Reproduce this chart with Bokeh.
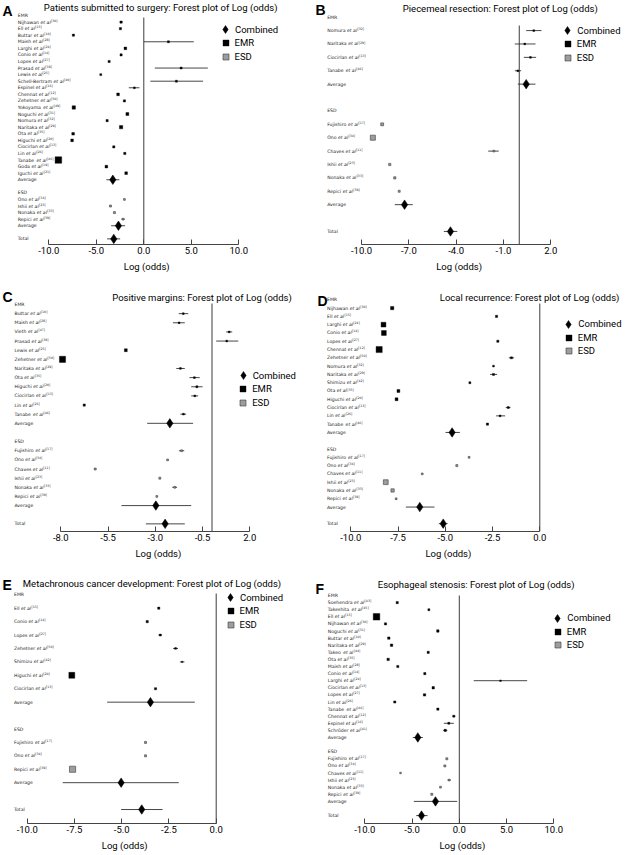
import math
from bokeh.plotting import figure
from bokeh.models import (Range1d, FixedTicker, NumeralTickFormatter, Label, Title,
                          Legend, LegendItem, ColumnDataSource)
from bokeh.layouts import gridplot
from bokeh.embed import file_html
from bokeh.resources import INLINE
from bokeh.core.properties import value

# ---------------------------------------------------------------- data
REFS = {"Buttar": 10, "Chaves": 11, "Chennat": 12, "Ciocirlan": 13, "Conio": 14,
        "Ell": 15, "Espinel": 16, "Fujishiro": 17, "Goda": 19, "Higuchi": 20,
        "Iguchi": 21, "Ishii": 23, "Larghi": 24, "Lewis": 25, "Lin": 26,
        "Lopes": 27, "Maish": 28, "Naritaka": 29, "Nijhawan": 30, "Noguchi": 31,
        "Nomura": 32, "Nonaka": 33, "Ono": 34, "Ota": 35, "Prasad": 38,
        "Repici": 39, "Schell-Bertram": 40, "Schröder": 41, "Shimizu": 42,
        "Soehendra": 43, "Takeo": 44, "Takeshita": 45, "Tanabe": 46, "Vieth": 47,
        "Yokoyama": 49, "Zehetner": 50}

TITLES = {
    "A": "Patients submitted to surgery: Forest plot of Log (odds)",
    "B": "Piecemeal resection: Forest plot of Log (odds)",
    "C": "Positive margins: Forest plot of Log (odds)",
    "D": "Local recurrence: Forest plot of Log (odds)",
    "E": "Metachronous cancer development: Forest plot of Log (odds)",
    "F": "Esophageal stenosis: Forest plot of Log (odds)",
}
TICKS = {
    "A": [-10.0, -5.0, 0.0, 5.0, 10.0],
    "B": [-10.0, -7.0, -4.0, -1.0, 2.0],
    "C": [-8.0, -5.5, -3.0, -0.5, 2.0],
    "D": [-10.0, -7.5, -5.0, -2.5, 0.0],
    "E": [-10.0, -7.5, -5.0, -2.5, 0.0],
    "F": [-10.0, -5.0, 0.0, 5.0, 10.0],
}
LEGEND_LABELS = ["Combined", "EMR", "ESD"]
AXIS_TITLE = "Log (odds)"

# (study, log odds, CI low, CI high, relative weight)  or (study, log odds, weight)
A_EMR = [("Nijhawan", -2.39, -2.55, -2.23, 1.0), ("Ell", -2.46, 1.0), ("Buttar", -7.41, 1.0),
         ("Maish", 2.59, 0.00, 5.26, 0.9), ("Larghi", -1.94, 1.2), ("Conio", -2.39, 1.0),
         ("Lopes", -3.65, 1.0), ("Prasad", 3.93, 1.16, 6.74, 0.9), ("Lewis", -4.53, 0.9),
         ("Schell-Bertram", 3.43, 0.69, 6.24, 0.9), ("Espinel", -0.99, -1.58, -0.46, 0.8),
         ("Chennat", -2.71, 1.2), ("Zehetner", -2.04, 1.0), ("Yokoyama", -7.37, 1.5),
         ("Noguchi", -1.73, 1.3), ("Nomura", -3.86, 1.0), ("Naritaka", -2.39, 1.5),
         ("Ota", -7.44, 1.2), ("Higuchi", -7.55, 1.2), ("Ciocirlan", -3.16, 1.0),
         ("Lin", -2.00, 1.0), ("Tanabe", -8.99, 3.0), ("Goda", -3.94, 1.2), ("Iguchi", -1.86, 1.2)]
A_ESD = [("Ono", -2.04, 0.8), ("Ishii", -3.51, 0.9), ("Nonaka", -3.09, 0.9),
         ("Repici", -2.18, -2.35, -2.00, 0.8)]
A_POOLED = [(-3.26, -3.94, -2.57), (-2.67, -3.44, -1.97), (-3.16, -3.86, -2.49)]

B_EMR = [("Nomura", 0.92, 0.44, 1.41, 0.8), ("Naritaka", 0.35, -0.28, 1.03, 0.8),
         ("Ciocirlan", 0.71, 0.29, 1.07, 0.8), ("Tanabe", -0.09, -0.28, 0.12, 0.8)]
B_ESD = [("Fujishiro", -8.69, 1.3), ("Ono", -9.28, 2.3), ("Chaves", -1.61, -1.97, -1.30, 0.8),
         ("Ishii", -8.21, 1.0), ("Nonaka", -7.89, 1.0), ("Repici", -7.61, 0.9)]
B_POOLED = [(0.44, -0.09, 1.03), (-7.27, -7.89, -6.75), (-4.36, -4.78, -3.93)]

C_EMR = [("Buttar", -1.52, -1.76, -1.26, 0.8), ("Maish", -1.74, -2.07, -1.44, 0.8),
         ("Vieth", 0.91, 0.75, 1.07, 0.8), ("Prasad", 0.78, 0.22, 1.39, 0.8),
         ("Lewis", -4.56, 1.3), ("Zehetner", -7.91, 2.8), ("Naritaka", -1.67, -1.89, -1.44, 0.8),
         ("Ota", -0.93, -1.19, -0.65, 0.8), ("Higuchi", -0.80, -1.10, -0.50, 0.9),
         ("Ciocirlan", -0.91, -1.10, -0.73, 0.8), ("Lin", -6.76, 1.0),
         ("Tanabe", -1.51, -1.67, -1.37, 0.8)]
C_ESD = [("Fujishiro", -1.61, -1.75, -1.47, 0.8), ("Ono", -2.35, 0.8), ("Chaves", -6.18, 0.9),
         ("Ishii", -2.76, 0.9), ("Nonaka", -1.97, -2.10, -1.85, 0.8), ("Repici", -2.92, 0.8)]
C_POOLED = [(-2.23, -3.43, -1.00), (-2.97, -4.79, -1.10), (-2.48, -3.50, -1.44)]

D_EMR = [("Nijhawan", -7.81, 1.5), ("Ell", -2.29, 1.0), ("Larghi", -8.27, 2.2),
         ("Conio", -8.25, 2.2), ("Lopes", -2.22, 1.0), ("Chennat", -8.50, 2.8),
         ("Zehetner", -1.50, -1.64, -1.36, 0.9), ("Nomura", -2.45, 0.8),
         ("Naritaka", -2.45, -2.63, -2.26, 0.9), ("Shimizu", -3.70, 0.9), ("Ota", -7.48, 1.3),
         ("Higuchi", -7.58, 1.3), ("Ciocirlan", -1.67, -1.80, -1.55, 0.9),
         ("Lin", -2.10, -2.31, -1.83, 0.8), ("Tanabe", -2.77, 1.0)]
D_ESD = [("Fujishiro", -3.74, 0.8), ("Ono", -4.39, 0.9), ("Chaves", -6.22, 0.8),
         ("Ishii", -8.15, 2.2), ("Nonaka", -7.79, 1.5), ("Repici", -7.60, 0.8)]
D_POOLED = [(-4.64, -4.99, -4.23), (-6.35, -7.09, -5.57), (-5.11, -5.34, -4.88)]

E_EMR = [("Ell", -3.04, 1.0), ("Conio", -3.65, 1.0), ("Lopes", -2.96, -3.05, -2.87, 0.9),
         ("Zehetner", -2.15, -2.28, -2.02, 0.8), ("Shimizu", -1.80, -1.92, -1.68, 0.6),
         ("Higuchi", -7.64, 2.7), ("Ciocirlan", -3.21, 1.0)]
E_ESD = [("Fujishiro", -3.74, 0.9), ("Ono", -3.74, 0.9), ("Repici", -7.60, 2.8)]
E_POOLED = [(-3.48, -5.77, -1.13), (-5.03, -8.12, -1.98), (-3.94, -5.03, -2.84)]

F_EMR = [("Soehendra", -6.57, 1.0), ("Takeshita", -3.22, 0.9), ("Ell", -8.76, 3.0),
         ("Nijhawan", -7.81, 1.0), ("Noguchi", -2.27, 1.1), ("Buttar", -7.46, 1.1),
         ("Naritaka", -7.17, 1.1), ("Takeo", -3.29, 1.0), ("Ota", -7.53, 1.1),
         ("Maish", -6.51, 1.0), ("Conio", -3.65, 1.0), ("Larghi", 4.36, 1.53, 7.18, 0.7),
         ("Ciocirlan", -2.76, 1.1), ("Lopes", -3.68, 1.1), ("Lin", -6.83, 1.0),
         ("Tanabe", -2.27, 1.0), ("Chennat", -0.58, -0.75, -0.42, 0.9),
         ("Espinel", -1.11, -1.64, -0.58, 0.9), ("Schröder", -1.49, -1.70, -1.27, 1.0)]
F_ESD = [("Fujishiro", -1.32, 0.9), ("Ono", -1.53, 0.9), ("Chaves", -6.22, 0.7),
         ("Ishii", -1.07, -1.25, -0.90, 0.8), ("Nonaka", -1.99, 0.8), ("Repici", -2.91, 0.9)]
F_POOLED = [(-4.39, -4.92, -3.86), (-2.52, -4.81, -0.22), (-4.00, -4.56, -3.36)]

# ---------------------------------------------------------------- layout (page pixels)
COLS = [(0, 314), (314, 314)]                                   # (left, width)
ROWS = [(0, 244, 288), (288, 531, 288), (576, 823, 278)]          # (top, axis y, height)
LAY = {
    "A": dict(col=0, row=0, t=(48.3, 238.3), y0=15.0, dy=6.57, lab=17.3, xlab=123.3,
              title=(43.3, 6.7), letter=(2, 10), leg=(225.0, 29.3), vtop=17),
    "B": dict(col=1, row=0, t=(361.0, 550.3), y0=16.7, dy=13.39, lab=326.7, xlab=435.7,
              title=(402.3, 8.3), letter=(315, 9.5), leg=(567.3, 30.0), vtop=25),
    "C": dict(col=0, row=1, t=(60.3, 249.3), y0=304.0, dy=9.14, lab=14.0, xlab=135.0,
              title=(111.7, 296.7), letter=(2, 296), leg=(242.7, 375.0), vtop=303),
    "D": dict(col=1, row=1, t=(350.3, 539.3), y0=299.3, dy=8.29, lab=326.5, xlab=425.0,
              title=(439.3, 296.7), letter=(317, 300), leg=(568.3, 323.7), vtop=303),
    "E": dict(col=0, row=2, t=(26.7, 215.7), y0=594.3, dy=13.42, lab=13.5, xlab=101.3,
              title=(22.3, 583.3), letter=(2, 584), leg=(230.0, 597.3), vtop=593),
    "F": dict(col=1, row=2, t=(364.3, 553.3), y0=595.0, dy=7.1, lab=327.3, xlab=439.0,
              title=(377.3, 584), letter=(315, 588), leg=(557.3, 617.7), vtop=595),
}
LEG_TEXT_DX = 10.0   # legend text start relative to glyph centre
LEG_PITCH = 13.6

FONT = "Roboto"
LFONT = "DejaVu Sans"
LS = 4.6      # study label font size (px)
SS = 3.2      # superscript size (px)
SQ = 2.2      # px per unit weight
TXT = "#222222"

_W = {" ": 651, "-": 739, ".": 651, "[": 799, "]": 799, "ö": 1253}
_W.update(dict(zip("ABCDEFGHIJKLMNOPQRSTUVWXYZ",
                   [1401, 1405, 1430, 1577, 1294, 1178, 1587, 1540, 604, 604, 1343, 1141, 1767,
                    1532, 1612, 1235, 1612, 1423, 1300, 1251, 1499, 1401, 2025, 1403, 1251, 1403])))
_W.update(dict(zip("abcdefghijklmnopqrstuvwxyz",
                   [1255, 1300, 1126, 1300, 1260, 721, 1300, 1298, 569, 569, 1186, 569, 1995,
                    1298, 1253, 1300, 1300, 842, 1067, 803, 1298, 1212, 1675, 1212, 1212, 1075])))
_W.update({d: 1303 for d in "0123456789"})


def tw(s, px):
    return sum(_W.get(c, 1250) for c in s) / 2048.0 * px


def norm(rows):
    out = []
    for t in rows:
        if len(t) == 3:
            out.append((t[0], t[1], t[1], t[1], t[2]))
        else:
            out.append(tuple(t))
    return out


def build(key, emr, esd, pooled):
    ticks = TICKS[key]
    L = LAY[key]
    left, width = COLS[L["col"]]
    top, ax_y, height = ROWS[L["row"]]
    t0, t1 = L["t"]
    ppu = (t1 - t0) / (ticks[-1] - ticks[0])
    xv = lambda px: ticks[0] + (px - t0) / ppu
    y0, dy = L["y0"], L["dy"]
    rv = lambda py: (py - y0) / dy
    frame_h = ax_y - top

    p = figure(width=width, height=height,
               x_range=Range1d(xv(left), xv(left + width)),
               y_range=Range1d(rv(ax_y), rv(top)),
               output_backend="svg", toolbar_location=None,
               y_axis_location=None, title=None,
               min_border_left=0, min_border_right=0, min_border_top=0,
               min_border_bottom=height - frame_h)
    p.outline_line_color = None
    p.grid.visible = False
    p.background_fill_color = "white"
    p.border_fill_color = "white"

    emr = norm(emr)
    esd = norm(esd)
    n, m = len(emr), len(esd)
    r_emr = list(range(1, n + 1))
    r_avg1 = n + 1
    r_esdh = n + 3
    r_esd = list(range(n + 4, n + 4 + m))
    r_avg2 = n + m + 4
    r_tot = n + m + 6

    # reference line at zero
    p.segment(x0=[0], y0=[rv(L["vtop"])], x1=[0], y1=[rv(ax_y)],
              line_color="#3c3c3c", line_width=1)

    # confidence intervals
    cx0, cx1, cy = [], [], []
    for rows_, rr in ((emr, r_emr), (esd, r_esd)):
        for (nm, est, lo, hi, w), r in zip(rows_, rr):
            if hi > lo:
                cx0.append(lo); cx1.append(hi); cy.append(r)
    for (est, lo, hi), r in zip(pooled, (r_avg1, r_avg2, r_tot)):
        cx0.append(lo); cx1.append(hi); cy.append(r)
    p.segment(x0=cx0, y0=cy, x1=cx1, y1=cy, line_color="#333333", line_width=0.9)

    src_emr = ColumnDataSource(dict(x=[t[1] for t in emr], y=r_emr,
                                    s=[SQ * t[4] for t in emr]))
    ren_emr = p.scatter("x", "y", size="s", source=src_emr, marker="square",
                        fill_color="black", line_color="black", line_width=0.4)
    src_esd = ColumnDataSource(dict(x=[t[1] for t in esd], y=r_esd,
                                    s=[SQ * t[4] for t in esd]))
    ren_esd = p.scatter("x", "y", size="s", source=src_esd, marker="square",
                        fill_color="#9d9d9d", line_color="#3a3a3a", line_width=0.6)
    src_pool = ColumnDataSource(dict(x=[q[0] for q in pooled], y=[r_avg1, r_avg2, r_tot]))
    ren_pool = p.scatter("x", "y", source=src_pool, marker="diamond", size=9.5,
                         fill_color="black", line_color="black", line_width=0.5)

    # study labels: name + italic "et al" + superscript reference
    lx = xv(L["lab"])
    names = [t[0] for t in emr] + [t[0] for t in esd]
    rows_n = r_emr + r_esd
    eo = [tw(nm + " ", LS) for nm in names]
    so = [o + tw("et al", LS) + 0.3 for o in eo]
    common = dict(text_font=value(LFONT), text_baseline="middle", text_color=TXT)
    p.text("x", "y", "text", source=ColumnDataSource(dict(x=[lx] * len(names), y=rows_n, text=names)),
           text_font_size=f"{LS}px", **common)
    p.text("x", "y", "text", x_offset="xo",
           source=ColumnDataSource(dict(x=[lx] * len(names), y=rows_n, text=["et al"] * len(names), xo=eo)),
           text_font_size=f"{LS}px", text_font_style="italic", **common)
    p.text("x", "y", "text", x_offset="xo", y_offset=-1.6,
           source=ColumnDataSource(dict(x=[lx] * len(names), y=rows_n,
                                        text=[f"[{REFS[nm]}]" for nm in names], xo=so)),
           text_font_size=f"{SS}px", **common)
    hdr = ColumnDataSource(dict(x=[lx] * 5, y=[0, r_avg1, r_esdh, r_avg2, r_tot],
                                text=["EMR", "Average", "ESD", "Average", "Total"]))
    p.text("x", "y", "text", source=hdr, text_font_size=f"{LS}px", **common)

    # x axis
    ax = p.xaxis[0]
    ax.bounds = (ticks[0], ticks[-1])
    ax.ticker = FixedTicker(ticks=ticks)
    ax.formatter = NumeralTickFormatter(format="0.0")
    ax.major_tick_in = 5
    ax.major_tick_out = 0
    ax.minor_tick_line_color = None
    ax.axis_line_color = "#444444"
    ax.major_tick_line_color = "#444444"
    ax.major_label_text_font = FONT
    ax.major_label_text_font_size = "9.5px"
    ax.major_label_text_color = "black"
    ax.major_label_standoff = 2
    p.add_layout(Title(text=AXIS_TITLE, align="left", offset=L["xlab"] - left, standoff=6,
                       vertical_align="middle", text_font=FONT, text_font_size="9.5px",
                       text_font_style="normal", text_color="black"), "below")

    # panel title and letter (inside the frame)
    tx, ty = L["title"]
    p.add_layout(Label(x=tx - left, y=ax_y - ty, x_units="screen", y_units="screen",
                       text=TITLES[key], text_align="left", text_baseline="middle",
                       text_font=FONT, text_font_size="9.5px", text_color="black"))
    lx_, ly_ = L["letter"]
    p.add_layout(Label(x=lx_ - left, y=ax_y - ly_, x_units="screen", y_units="screen",
                       text=key, text_align="left", text_baseline="middle",
                       text_font="Liberation Sans", text_font_style="bold",
                       text_font_size="14px", text_color="black"))

    # legend: one single-item legend per entry so each can sit at its own place
    gx, gy = L["leg"]
    for i, (lab, ren, gs) in enumerate(zip(LEGEND_LABELS, (ren_pool, ren_emr, ren_esd), (20, 15, 15))):
        cyy = gy + i * LEG_PITCH
        standoff = max(0, int(round(LEG_TEXT_DX - gs / 2)))
        lg = Legend(items=[LegendItem(label=lab, renderers=[ren])],
                    location=(gx - gs / 2 - left, ax_y - (cyy + gs / 2)),
                    glyph_width=gs, glyph_height=gs, label_height=gs, spacing=0,
                    label_standoff=standoff, padding=0, margin=0, border_line_color=None,
                    background_fill_alpha=0, label_text_font=FONT,
                    label_text_font_size="9.5px", label_text_color="black")
        p.add_layout(lg)
    return p


pA = build("A", A_EMR, A_ESD, A_POOLED)
pB = build("B", B_EMR, B_ESD, B_POOLED)
pC = build("C", C_EMR, C_ESD, C_POOLED)
pD = build("D", D_EMR, D_ESD, D_POOLED)
pE = build("E", E_EMR, E_ESD, E_POOLED)
pF = build("F", F_EMR, F_ESD, F_POOLED)

grid = gridplot([[pA, pB], [pC, pD], [pE, pF]], toolbar_location=None)
open("out.html", "w", encoding="utf-8").write(file_html(grid, INLINE, title="Forest plots"))
